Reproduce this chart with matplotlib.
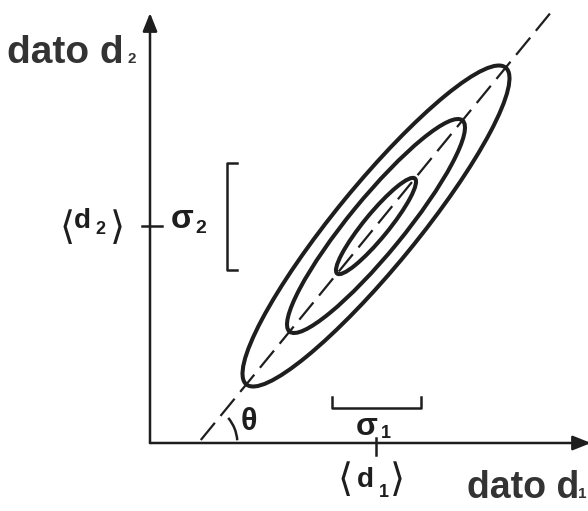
import numpy as np
import matplotlib
matplotlib.use("Agg")
import matplotlib.pyplot as plt
from matplotlib.patches import Ellipse, Arc

# two correlated data: means, spreads and correlation (plot units)
mean_d1 = 226.0
mean_d2 = 217.0
sigma_1 = 44.5
sigma_2 = 53.5
rho = 0.92
levels = [0.9, 2.0, 3.0]   # contour levels in units of sigma

ink = "#1e1e1e"
label_grey = "#333333"
sans = ["Liberation Sans", "DejaVu Sans"]

# principal axes of the covariance matrix
cov = np.array([[sigma_1**2, rho * sigma_1 * sigma_2],
                [rho * sigma_1 * sigma_2, sigma_2**2]])
vals, vecs = np.linalg.eigh(cov)
major = vecs[:, 1]
if major[0] < 0:
    major = -major
theta = np.degrees(np.arctan2(major[1], major[0]))
slope = np.tan(np.radians(theta))

fig = plt.figure(figsize=(5.88, 5.11), dpi=100)
ax = fig.add_axes([0, 0, 1, 1])
ax.set_xlim(-150, 438)
ax.set_ylim(-68, 443)
ax.axis("off")

# axes with arrows
arrow = dict(arrowstyle="-|>,head_length=0.55,head_width=0.22", lw=1.8,
             color=ink, mutation_scale=20, shrinkA=0, shrinkB=0)
ax.annotate("", xy=(0, 430), xytext=(0, 0), arrowprops=arrow,
            annotation_clip=False)
ax.annotate("", xy=(441, 0), xytext=(0, 0), arrowprops=arrow,
            annotation_clip=False)

# error ellipses
for k in levels:
    ax.add_patch(Ellipse((mean_d1, mean_d2), width=2 * k * np.sqrt(vals[1]),
                         height=2 * k * np.sqrt(vals[0]), angle=theta,
                         fill=False, lw=2.9, ec=ink))

# major axis, dashed, from the d1 axis upwards
x0 = mean_d1 - mean_d2 / slope
ys = np.array([3, 434])
ax.plot(x0 + ys / slope, ys, color=ink, lw=1.6, dashes=(10, 4),
        solid_capstyle="butt", dash_capstyle="butt")
ax.add_patch(Arc((x0, 0), 78, 78, theta1=4, theta2=40, lw=1.8, color=ink))
ax.text(x0 + 42, 21, "θ", fontsize=22, fontweight="bold", color=ink,
        family=sans, ha="left", va="center")

# ticks at the means
ax.plot([-8, 12], [mean_d2, mean_d2], color=ink, lw=1.8)
ax.plot([mean_d1, mean_d1], [-12, 5], color=ink, lw=1.8)

# sigma scale bars
yb = mean_d2 + 10
ax.plot([87, 77, 77, 87], [yb + sigma_2, yb + sigma_2, yb - sigma_2, yb - sigma_2],
        color=ink, lw=1.8)
ax.plot([mean_d1 - sigma_1, mean_d1 - sigma_1, mean_d1 + sigma_1, mean_d1 + sigma_1],
        [46, 35, 35, 46], color=ink, lw=1.8)


def put(x, y, s, size, color=ink, family=sans, weight="bold", va="baseline"):
    ax.text(x, y, s, fontsize=size, fontweight=weight, color=color,
            family=family, ha="left", va=va)


bra = ["DejaVu Sans"]

# <d2> and sigma_2
put(-90, mean_d2 - 2, "⟨", 28, family=bra, weight="normal", va="center")
put(-76, mean_d2 - 2, "d", 20)
put(-55, mean_d2 - 8, "2", 13)
put(-40, mean_d2 - 2, "⟩", 28, family=bra, weight="normal", va="center")
put(21, mean_d2 - 2, "σ", 24)
put(45, mean_d2 - 7, "2", 14)

# <d1> and sigma_1
put(mean_d1 - 38, -37, "⟨", 28, family=bra, weight="normal", va="center")
put(mean_d1 - 19, -44, "d", 20)
put(mean_d1 + 3, -54, "1", 13)
put(mean_d1 + 14, -37, "⟩", 28, family=bra, weight="normal", va="center")
put(mean_d1 - 20, 8, "σ", 23)
put(mean_d1 + 5, 5, "1", 13)

# axis titles
put(-143, 380, "dato d", 28, color=label_grey)
put(-23, 380, "2", 11, color=label_grey)
put(317, -55, "dato d", 27, color=label_grey)
put(428, -55, "1", 11, color=label_grey)

fig.savefig("out.png", dpi=100, facecolor="white")
